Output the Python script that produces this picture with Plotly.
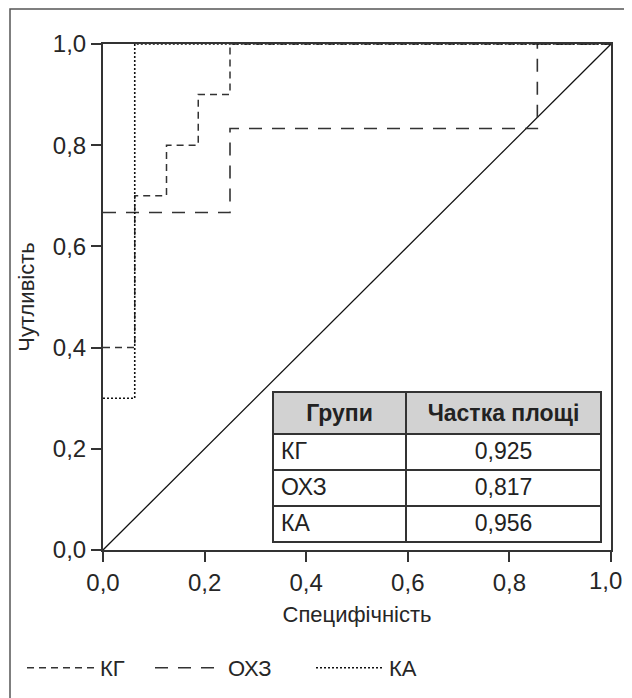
import plotly.graph_objects as go

# ROC curve data (x axis labelled "Специфічність", y axis "Чутливість")
kg_x = [0.0, 0.0625, 0.0625, 0.125, 0.125, 0.1875, 0.1875, 0.25, 0.25, 1.0]
kg_y = [0.4, 0.4, 0.7, 0.7, 0.8, 0.8, 0.9, 0.9, 1.0, 1.0]

ohz_x = [0.0, 0.25, 0.25, 0.855, 0.855, 1.0]
ohz_y = [0.667, 0.667, 0.833, 0.833, 1.0, 1.0]

ka_x = [0.0, 0.0625, 0.0625, 1.0]
ka_y = [0.3, 0.3, 1.0, 1.0]

diag_x = [0.0, 1.0]
diag_y = [0.0, 1.0]

groups = ["КГ", "ОХЗ", "КА"]
auc = ["0,925", "0,817", "0,956"]
table_header = ["Групи", "Частка площі"]

tick_vals = [0.0, 0.2, 0.4, 0.6, 0.8, 1.0]
tick_text = ["0,0", "0,2", "0,4", "0,6", "0,8", "1,0"]

FONT = "Liberation Sans, Arial, Helvetica, sans-serif"
INK = "#262626"

# page body has an 8px default margin; figure is sized/offset to compensate
BODY = 8
PL, PR, PT, PB = 103, 611, 44, 550        # plot area in window pixels
W, H = 624, 690
PW = PR - PL


def px_x(X):
    return (X - PL) / PW


fig = go.Figure()

fig.add_trace(go.Scatter(x=diag_x, y=diag_y, mode="lines",
                         line=dict(color="#111111", width=1.3),
                         showlegend=False, hoverinfo="skip"))
fig.add_trace(go.Scatter(x=kg_x, y=kg_y, mode="lines", name="КГ", legend="legend",
                         line=dict(color="#333333", width=1.5, dash="7px,5px")))
fig.add_trace(go.Scatter(x=ohz_x, y=ohz_y, mode="lines", name="ОХЗ", legend="legend2",
                         line=dict(color="#333333", width=1.6, dash="13px,10px")))
fig.add_trace(go.Scatter(x=ka_x, y=ka_y, mode="lines", name="КА", legend="legend3",
                         line=dict(color="#111111", width=1.6, dash="2px,2px")))

fig.add_trace(go.Table(
    domain=dict(x=[px_x(273), px_x(601)], y=[0.0, (PB - 392) / (PB - PT)]),
    columnwidth=[133, 195],
    header=dict(values=["<b>%s</b>" % h for h in table_header],
                fill_color="#d2d2d2",
                line=dict(color="#333333", width=1.5),
                align="center", height=37,
                font=dict(family=FONT, size=23, color="#222222")),
    cells=dict(values=[groups, auc],
               fill_color="white",
               line=dict(color="#333333", width=1.5),
               align=["left", "center"], height=36,
               font=dict(family=FONT, size=23, color="#222222")),
))

axis_common = dict(
    range=[0, 1],
    tickvals=tick_vals,
    showline=True, linecolor="#333333", linewidth=2, mirror=True,
    ticks="outside", ticklen=10, tickwidth=1.5, tickcolor="#333333",
    showgrid=False, zeroline=False, automargin=False,
    tickfont=dict(family=FONT, size=24, color=INK),
)

# last x label is drawn as an annotation nudged left so it is not cut at the page edge
fig.update_xaxes(**axis_common,
                 ticktext=tick_text[:-1] + [""],
                 title=dict(text="Специфічність",
                            font=dict(family=FONT, size=22, color=INK),
                            standoff=12))
fig.update_yaxes(**axis_common,
                 ticktext=tick_text,
                 title=dict(text="Чутливість",
                            font=dict(family=FONT, size=22, color=INK),
                            standoff=12))

fig.add_annotation(x=tick_vals[-1], y=0, xref="x", yref="paper",
                   text=tick_text[-1], showarrow=False,
                   xanchor="center", yanchor="middle", xshift=-6, yshift=-30,
                   font=dict(family=FONT, size=24, color=INK))

# outer frame (cropped at the right and bottom in the original)
fig.add_shape(type="rect", xref="paper", yref="paper",
              x0=px_x(10), x1=px_x(700), y0=(PB - 760) / (PB - PT), y1=(PB - 9) / (PB - PT),
              line=dict(color="#555555", width=1.5), layer="below")

leg_y = (PB - 668) / (PB - PT)
leg_common = dict(orientation="h", xanchor="left", yanchor="middle", y=leg_y,
                  itemwidth=68, bgcolor="rgba(0,0,0,0)",
                  font=dict(family=FONT, size=22, color=INK))

fig.update_layout(
    width=W, height=H,
    margin=dict(l=PL - BODY, r=W - (PR - BODY), t=PT - BODY,
                b=H - (PB - BODY), autoexpand=False),
    paper_bgcolor="white", plot_bgcolor="white",
    font=dict(family=FONT, size=22, color=INK),
    legend=dict(x=px_x(22), **leg_common),
    legend2=dict(x=px_x(150), **leg_common),
    legend3=dict(x=px_x(311), **leg_common),
)

fig.write_html("out.html")
